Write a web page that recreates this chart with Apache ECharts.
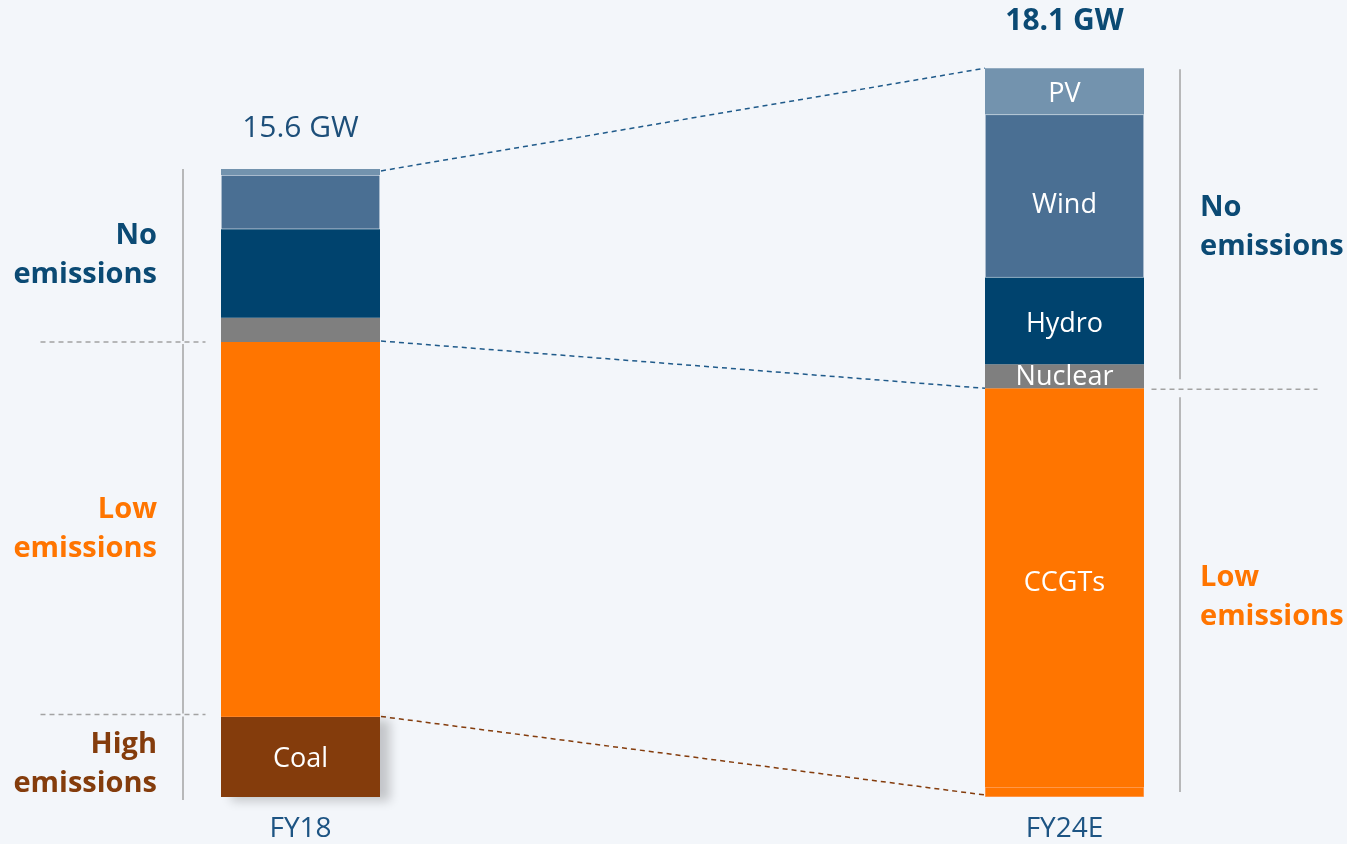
<!DOCTYPE html>
<html>
<head>
<meta charset="utf-8">
<script src="https://cdn.jsdelivr.net/npm/echarts@6/dist/echarts.min.js"></script>
<style>
  html, body { margin: 0; padding: 0; background: #F3F6FA; }
  #chart { width: 1347px; height: 844px; }
</style>
</head>
<body>
<div id="chart"></div>
<script>
// Installed generation capacity by technology, GW
const years = ['FY18', 'FY24E'];
const coal = [2.0, 0];
const peakers = [0, 0.25];
const ccgt = [9.3, 9.9];
const nuclear = [0.6, 0.6];
const hydro = [2.2, 2.15];
const wind = [1.35, 4.05];
const pv = [0.15, 1.15];

const FONT = '"Open Sans", "Noto Sans", sans-serif';
const COLORS = {
  coal: '#843C0C', peakers: '#FF7500', ccgt: '#FF7500', nuclear: '#7F7F7F',
  hydro: '#00436E', wind: '#4A6F93', pv: '#7393AE'
};
const NAVY = '#0B4A74';
const ORANGE = '#FF7500';
const BROWN = '#843C0C';
const GREY = '#A3A3A3';
const BAR_W = 159;

const chart = echarts.init(document.getElementById('chart'), null, { renderer: 'canvas' });

const segLabel = {
  show: false, position: 'inside', formatter: '{a}', color: '#FFFFFF',
  fontFamily: FONT, fontSize: 27
};

// A stacked segment; `offsets` holds a label offset per year, or null for no label
function barSeries(name, key, values, offsets) {
  return {
    name: name,
    type: 'bar',
    stack: 'capacity',
    barWidth: BAR_W,
    clip: false,
    silent: true,
    itemStyle: { color: COLORS[key] },
    label: segLabel,
    data: values.map((v, i) => (offsets[i] ? { value: v, label: { show: true, offset: offsets[i] } } : v))
  };
}

const coalSeries = barSeries('Coal', 'coal', coal, [[0, 3], null]);
coalSeries.itemStyle = {
  color: COLORS.coal, shadowColor: 'rgba(0,0,0,0.2)', shadowBlur: 10,
  shadowOffsetX: 10, shadowOffsetY: 4
};
const peakerSeries = barSeries('Peakers', 'peakers', peakers, [null, null]);
peakerSeries.itemStyle = { color: COLORS.peakers, borderColor: '#FF9444', borderWidth: 1 };
const windSeries = barSeries('Wind', 'wind', wind, [null, [0, 9]]);
windSeries.itemStyle = { color: COLORS.wind, borderColor: 'rgba(255,255,255,0.12)', borderWidth: 1 };

chart.setOption({
  backgroundColor: '#F3F6FA',
  animation: false,
  grid: { left: 300.5, right: 282.5, top: 32, bottom: 47 },
  xAxis: {
    type: 'category',
    data: years,
    boundaryGap: false,
    axisLine: { show: false },
    axisTick: { show: false },
    axisLabel: { color: '#1D5483', fontFamily: FONT, fontSize: 28, margin: 18 }
  },
  yAxis: { type: 'value', min: 0, max: 19, show: false, splitLine: { show: false } },
  series: [
    coalSeries,
    peakerSeries,
    barSeries('CCGTs', 'ccgt', ccgt, [null, [0, -4]]),
    barSeries('Nuclear', 'nuclear', nuclear, [null, [0, 1]]),
    barSeries('Hydro', 'hydro', hydro, [null, [0, 3]]),
    windSeries,
    barSeries('PV', 'pv', pv, [null, [0, 3]])
  ]
});

// Group boundaries per year, derived from the stacked values
const bounds = years.map((_, i) => {
  const high = coal[i];
  const low = high + peakers[i] + ccgt[i];
  const total = low + nuclear[i] + hydro[i] + wind[i] + pv[i];
  return { high, low, total };
});
const px = (i, v) => chart.convertToPixel({ xAxisIndex: 0, yAxisIndex: 0 }, [i, v]);
const X = (i) => px(i, 0)[0];
const Y = (v) => px(0, v)[1];
const HW = BAR_W / 2;

const elements = [];
const line = (x1, y1, x2, y2, color, dashed) => elements.push({
  type: 'line', silent: true,
  shape: { x1, y1, x2, y2 },
  style: { stroke: color, lineWidth: 1.5, lineDash: dashed ? [5, 4] : null }
});
const text = (x, y, str, color, align, bold, size) => elements.push({
  type: 'text', silent: true, x, y,
  style: {
    text: str, fill: color, align, verticalAlign: 'middle',
    fontFamily: FONT, fontSize: size, fontWeight: bold ? 'bold' : 'normal', lineHeight: 39
  }
});

const b0 = bounds[0], b1 = bounds[1];
const x0 = X(0), x1 = X(1);

// Connectors between the two bars
line(x0 + HW + 1, Y(b0.total) + 2, x1 - HW, Y(b1.total), '#1F5A8A', true);
line(x0 + HW + 1, Y(b0.low) - 1, x1 - HW, Y(b1.low), '#1F5A8A', true);
line(x0 + HW + 1, Y(b0.high), x1 - HW, Y(b1.high) - 2, BROWN, true);

// Left bracket and separators
const lx = x0 - 117.5;
line(lx, Y(b0.total), lx, Y(b0.low) - 1, GREY, false);
line(lx, Y(b0.low) + 2, lx, Y(b0.high) - 3, GREY, false);
line(lx, Y(b0.high), lx, Y(0) + 3, GREY, false);
line(x0 - 260, Y(b0.low), x0 - 95, Y(b0.low), GREY, true);
line(x0 - 260, Y(b0.high) - 2, x0 - 95, Y(b0.high) - 2, GREY, true);

// Right bracket and separator
const rx = x1 + 115.5;
line(rx, Y(b1.total) + 1, rx, Y(b1.low) - 9, GREY, false);
line(rx, Y(b1.low) + 9, rx, Y(0) - 5, GREY, false);
line(x1 + 87, Y(b1.low) + 1, x1 + 253, Y(b1.low) + 1, GREY, true);

// Emission group captions
const mid = (a, b) => (Y(a) + Y(b)) / 2;
text(x0 - 143.5, mid(b0.low, b0.total), 'No\nemissions', NAVY, 'right', true, 29);
text(x0 - 143.5, mid(b0.high, b0.low), 'Low\nemissions', ORANGE, 'right', true, 29);
text(x0 - 143.5, mid(0, b0.high) + 7, 'High\nemissions', BROWN, 'right', true, 29);
text(x1 + 135.5, mid(b1.low, b1.total) - 1, 'No\nemissions', NAVY, 'left', true, 29);
text(x1 + 135.5, mid(0, b1.low) + 5, 'Low\nemissions', ORANGE, 'left', true, 29);

// Totals above each bar
text(x0, Y(b0.total) - 40, b0.total.toFixed(1) + ' GW', '#1D4F7A', 'center', false, 30);
text(x1, Y(b1.total) - 47, b1.total.toFixed(1) + ' GW', NAVY, 'center', true, 30);

chart.setOption({ graphic: { elements } });
</script>
</body>
</html>
